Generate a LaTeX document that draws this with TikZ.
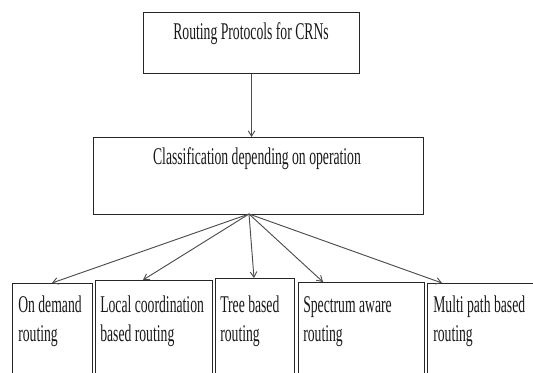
\documentclass[tikz,border=0pt]{standalone}
\usepackage{fontspec}
\setmainfont{Liberation Serif}[FakeStretch=0.57]
\usetikzlibrary{arrows.meta,calc}
\begin{document}
\begin{tikzpicture}[x=0.75pt,y=-0.75pt,
  box/.style={draw=black!85, line width=0.8pt, inner sep=0pt, anchor=north west},
  lbl/.style={font=\fontsize{18}{21.75}\selectfont, inner sep=0pt, text=black!90},
  link/.style={draw=black!70, line width=0.7pt, -{Straight Barb[length=4pt,width=5pt]}}]
\useasboundingbox (0,0) rectangle (533,373);
\clip (0,0) rectangle (533,373);

% upper boxes
\node[box, minimum width=162pt, minimum height=45.75pt] (top) at (143,12) {};
\node[lbl, anchor=base] (toptext) at (251,40) {Routing Protocols for CRNs};
\node[box, minimum width=247.5pt, minimum height=57.75pt] (mid) at (93,137) {};
\node[lbl, anchor=base] (midtext) at (257,165) {Classification depending on operation};

% classes (their lower edges run off the page)
\node[box, minimum width=60pt,   minimum height=112.5pt] (b1) at (12,283) {};
\node[box, minimum width=87.75pt, minimum height=112.5pt] (b2) at (95,280) {};
\node[box, minimum width=59.25pt, minimum height=112.5pt] (b3) at (215,278) {};
\node[box, minimum width=94.5pt, minimum height=112.5pt] (b4) at (298,282) {};
\node[box, minimum width=90pt,   minimum height=112.5pt] (b5) at (427,283) {};

% two-line labels, placed by the baseline of their second line
\node[lbl, anchor=base west, align=left] (t1) at (18,342) {On demand\\routing};
\node[lbl, anchor=base west, align=left] (t2) at (100,342) {Local coordination\\based routing};
\node[lbl, anchor=base west, align=left] (t3) at (220,342) {Tree based\\routing};
\node[lbl, anchor=base west, align=left] (t4) at (303,342) {Spectrum aware\\routing};
\node[lbl, anchor=base west, align=left] (t5) at (433,342) {Multi path based\\routing};

% connectors
\draw[link] (top.south) -- (top.south |- mid.north);
\coordinate (fan) at (249,214);
\draw[link] (fan) -- ($(b1.north west)+(40,0)$);
\draw[link] (fan) -- ($(b2.north west)+(48,0)$);
\draw[link] (fan) -- ($(b3.north west)+(39,0)$);
\draw[link] (fan) -- ($(b4.north west)+(25,0)$);
\draw[link] (fan) -- ($(b5.north west)+(15,0)$);
\end{tikzpicture}
\end{document}
